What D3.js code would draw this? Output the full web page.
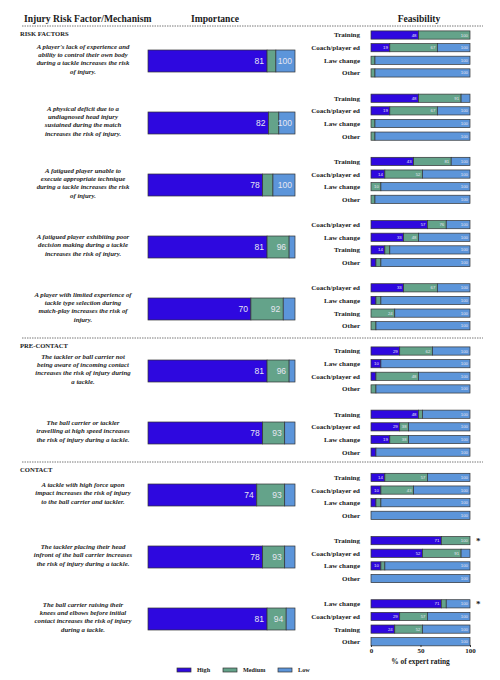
<!DOCTYPE html>
<html>
<head>
<meta charset="utf-8">
<script src="https://cdn.jsdelivr.net/npm/d3@7/dist/d3.min.js"></script>
<style>
body{margin:0;background:#fff;}
.serif{font-family:"Liberation Serif","Times New Roman",serif;font-weight:bold;fill:#1a1a1a;}
.factor{font-style:italic;fill:#1e1e1e;}
.seg{stroke:#333;stroke-width:0.7;}
.lbl{font-family:"Liberation Sans",Arial,sans-serif;fill:#e6e6f2;}
</style>
</head>
<body>
<div id="chart"></div>
<script>
// risk factor statements, one array of lines per row
var factors = [
    ["A player's lack of experience and","ability to control their own body","during a tackle increases the risk","of injury."],
    ["A physical deficit due to a","undiagnosed head injury","sustained during the match","increases the risk of injury."],
    ["A fatigued player unable to","execute appropriate technique","during a tackle increases the risk","of injury."],
    ["A fatigued player exhibiting poor","decision making during a tackle","increases the risk of injury."],
    ["A player with limited experience of","tackle type selection during","match-play increases the risk of","injury."],
    ["The tackler or ball carrier not","being aware of incoming contact","increases the risk of injury during","a tackle."],
    ["The ball carrier or tackler","travelling at high speed increases","the risk of injury during a tackle."],
    ["A tackle with high force upon","impact increases the risk of injury","to the ball carrier and tackler."],
    ["The tackler placing their head","infront of the ball carrier increases","the risk of injury during a tackle."],
    ["The ball carrier raising their","knees and elbows before initial","contact increases the risk of injury","during a tackle."]
];
// section names and the row they start at
var sectionNames = ["RISK FACTORS","PRE-CONTACT","CONTACT"];
var sectionStart = [0,5,7];

// importance, cumulative % (high, high+medium), low fills to 100
var impHigh = [81,82,78,81,70,81,78,74,78,81];
var impMed  = [87,89,85,96,92,96,93,93,93,94];

// feasibility rows for each factor, cumulative %
var feasNames = [
    ["Training","Coach/player ed","Law change","Other"],
    ["Training","Coach/player ed","Law change","Other"],
    ["Training","Coach/player ed","Law change","Other"],
    ["Coach/player ed","Law change","Training","Other"],
    ["Coach/player ed","Law change","Training","Other"],
    ["Training","Law change","Coach/player ed","Other"],
    ["Training","Coach/player ed","Law change","Other"],
    ["Training","Coach/player ed","Law change","Other"],
    ["Training","Coach/player ed","Law change","Other"],
    ["Law change","Coach/player ed","Training","Other"]
];
var feasHigh = [
    [48,19,0,0],[48,19,0,0],[43,14,0,0],[57,33,14,5],[33,5,0,0],
    [29,10,5,0],[48,29,19,5],[14,10,5,0],[71,52,10,0],[71,29,24,0]
];
var feasMed = [
    [100,67,4,4],[91,67,4,4],[81,52,10,4],[76,48,19,10],[67,10,24,5],
    [62,10,48,5],[52,38,38,5],[57,43,10,0],[100,91,14,0],[76,57,52,0]
];
// rows marked with an asterisk [factor, row]
var starred = [[8,0],[9,0]];
var feasTicks = [0,50,100];
var levels = ["High","Medium","Low"];

var width=500, height=680,
    colors={High:"#2e08df",Medium:"#64a38a",Low:"#5c95da"};

var svg=d3.select('#chart')
    .append('svg')
    .attr('width',width)
    .attr('height',height)

// scales
var x_imp=d3.scaleLinear().domain([0,100]).range([148,295]);
var x_feas=d3.scaleLinear().domain([0,100]).range([371,470]);
var y_imp=d3.scaleBand().domain(d3.range(factors.length)).range([30,650]).paddingInner(0.645).paddingOuter(0.3225);
// feasibility slots: 4 rows + 1 gap per factor
var y_feas=d3.scaleBand().domain(d3.range(factors.length*5)).range([28.7,660.7]).paddingInner(0.35).paddingOuter(0.175);

// column headers
svg.append('text').attr('class','serif').attr('x',24).attr('y',22)
    .style('font-size','9.6px').text('Injury Risk Factor/Mechanism');
svg.append('text').attr('class','serif').attr('x',215).attr('y',22)
    .attr('text-anchor','middle').style('font-size','9.6px').text('Importance');
svg.append('text').attr('class','serif').attr('x',419).attr('y',22)
    .attr('text-anchor','middle').style('font-size','9.6px').text('Feasibility');

// section dividers and names
sectionStart.forEach(function (g,i) {
    var ly= i==0 ? 26 : (y_imp(g-1)+y_imp(g)+y_imp.bandwidth())/2-2;
    svg.append('line')
        .attr('x1',22).attr('x2',483).attr('y1',ly).attr('y2',ly)
        .attr('stroke','#555').attr('stroke-width',0.8).attr('stroke-dasharray','1.5,1');
    svg.append('text').attr('class','serif')
        .attr('x',20).attr('y',ly+10)
        .style('font-size','6.6px')
        .text(sectionNames[i]);
});

// factor text
var lh=8.3;
factors.forEach(function (lines,g) {
    var cy=y_imp(g)+y_imp.bandwidth()/2-2;
    var t=svg.append('text')
        .attr('class','serif factor')
        .attr('text-anchor','middle')
        .style('font-size','6.8px');
    lines.forEach(function (s,j) {
        t.append('tspan')
            .attr('x',83)
            .attr('y',cy-(lines.length-1)*lh/2+j*lh+2.3)
            .text(s);
    });
});

// stacked segments from cumulative values
function segs(h,m) {
    return [
        {level:'High',x0:0,x1:h},
        {level:'Medium',x0:h,x1:m},
        {level:'Low',x0:m,x1:100}
    ];
}

// importance bars
factors.forEach(function (d,g) {
    var item=svg.append('g');
    var s=segs(impHigh[g],impMed[g]).filter(function (d) {return d.x1>d.x0;});
    item.selectAll('rect')
        .data(s).enter().append('rect')
        .attr('class','seg')
        .attr('x',function (d) {return x_imp(d.x0);})
        .attr('width',function (d) {return x_imp(d.x1)-x_imp(d.x0);})
        .attr('y',y_imp(g))
        .attr('height',y_imp.bandwidth())
        .attr('fill',function (d) {return colors[d.level];});
    item.selectAll('text')
        .data(s.filter(function (d) {return d.x1-d.x0>=10;}))
        .enter().append('text')
        .attr('class','lbl')
        .attr('x',function (d) {return x_imp(d.x1)-3;})
        .attr('y',y_imp(g)+y_imp.bandwidth()/2)
        .attr('dy','0.35em')
        .attr('text-anchor','end')
        .style('font-size','8.5px')
        .text(function (d) {return d.x1;});
});

// feasibility bars
feasNames.forEach(function (names,g) {
    names.forEach(function (name,r) {
        var yy=y_feas(g*5+r), bh=y_feas.bandwidth();
        var s=segs(feasHigh[g][r],feasMed[g][r]).filter(function (d) {return d.x1>d.x0;});
        svg.append('text').attr('class','serif')
            .attr('x',360).attr('y',yy+bh/2).attr('dy','0.35em')
            .attr('text-anchor','end')
            .style('font-size','7px')
            .text(name);
        var item=svg.append('g');
        item.selectAll('rect')
            .data(s).enter().append('rect')
            .attr('class','seg')
            .attr('x',function (d) {return x_feas(d.x0);})
            .attr('width',function (d) {return x_feas(d.x1)-x_feas(d.x0);})
            .attr('y',yy)
            .attr('height',bh)
            .attr('fill',function (d) {return colors[d.level];});
        item.selectAll('text')
            .data(s.filter(function (d) {
                return d.level=='Low' ? d.x1-d.x0>9 : d.x1-d.x0>=9;
            }))
            .enter().append('text')
            .attr('class','lbl')
            .attr('x',function (d) {return x_feas(d.x1)-2;})
            .attr('y',yy+bh/2)
            .attr('dy','0.35em')
            .attr('text-anchor','end')
            .style('font-size','4.3px')
            .text(function (d) {return d.x1;});
    });
});

// asterisks
svg.selectAll('.star')
    .data(starred).enter().append('text')
    .attr('class','serif star')
    .attr('x',476)
    .attr('y',function (d) {return y_feas(d[0]*5+d[1])+y_feas.bandwidth()/2+3.5;})
    .style('font-size','9px')
    .text('*');

// x axis
var axis=svg.append('g')
    .attr('transform','translate(0,645)')
    .call(d3.axisBottom(x_feas).tickValues(feasTicks).tickSize(2));
axis.select('.domain').remove();
axis.selectAll('line').attr('stroke','#333');
axis.selectAll('text')
    .attr('class','serif')
    .attr('y',3)
    .style('font-size','7px');
svg.append('text').attr('class','serif')
    .attr('x',x_feas(50)).attr('y',664)
    .attr('text-anchor','middle')
    .style('font-size','7.4px')
    .text('% of expert rating');

// legend
var legX={High:177,Medium:223,Low:278};
var leg=svg.selectAll('.leg')
    .data(levels).enter().append('g')
    .attr('transform',function (d) {return 'translate('+legX[d]+',670)';});
leg.append('rect')
    .attr('class','seg')
    .attr('y',-2).attr('width',14).attr('height',4)
    .attr('fill',function (d) {return colors[d];});
leg.append('text')
    .attr('class','serif')
    .attr('x',20).attr('dy','0.35em')
    .style('font-size','6.2px')
    .text(function (d) {return d;});
</script>
</body>
</html>
